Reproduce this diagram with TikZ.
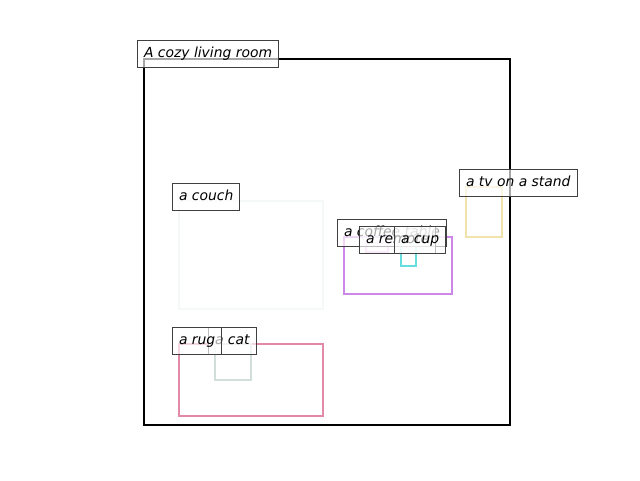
\documentclass[tikz,border=0pt]{standalone}
\usepackage{fontspec}
\setmainfont{DejaVu Sans}
\definecolor{ctable}{RGB}{204,136,232}
\definecolor{cremote}{RGB}{242,200,242}
\definecolor{ccup}{RGB}{102,221,221}
\definecolor{ctv}{RGB}{242,226,172}
\definecolor{crug}{RGB}{226,136,168}
\definecolor{ccat}{RGB}{210,222,218}
\definecolor{ccouch}{RGB}{244,249,245}
\tikzset{
  objbox/.style={line width=2.2pt},
  lbl/.style={draw=black!75, fill=white, fill opacity=0.65, text opacity=1,
    line width=1pt, font=\fontsize{13.9}{16}\selectfont\itshape,
    inner xsep=6.5pt, text height=10pt, text depth=3pt,
    minimum height=27pt, anchor=west}
}
\begin{document}
\begin{tikzpicture}[x=1pt,y=-1pt]
\useasboundingbox (0,0) rectangle (640,480);
% object rectangles
\draw[objbox, black] (144,59) rectangle (510,425);
\draw[objbox, ccouch] (179,201) rectangle (323,309);
\draw[objbox, ctv] (466,187) rectangle (502,237);
\draw[objbox, ctable] (344,237) rectangle (452,294);
\draw[objbox, cremote] (366,243) rectangle (388,252);
\draw[objbox, ccup] (401,243) rectangle (416,266);
\draw[objbox, crug] (179,344) rectangle (323,416);
\draw[objbox, ccat] (215,344) rectangle (251,380);
% labels
\node[lbl] (lroom) at (137,53.5) {A cozy living room};
\node[lbl] (lcouch) at (172,196.5) {a couch};
\node[lbl] (ltv) at (459,182.5) {a tv on a stand};
\node[lbl] (ltable) at (337,232.5) {a coffee table};
\node[lbl] (lremote) at (359,239.5) {a remote};
\node[lbl] (lcup) at (394,239.5) {a cup};
\node[lbl] (lcat) at (208,340.5) {a cat};
\node[lbl] (lrug) at (172,340.5) {a rug};
\end{tikzpicture}
\end{document}
